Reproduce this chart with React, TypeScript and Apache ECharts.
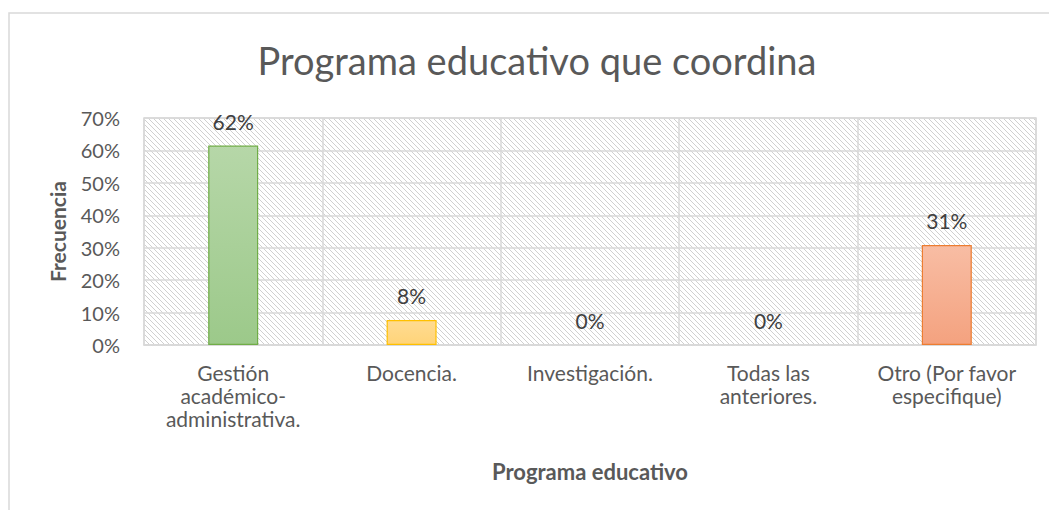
import React, { useEffect, useRef } from "react";
import * as echarts from "echarts";

const titleText = "Programa educativo que coordina";
const categories = [
  "Gestión\nacadémico-\nadministrativa.",
  "Docencia.",
  "Investigación.",
  "Todas las\nanteriores.",
  "Otro (Por favor\nespecifique)",
];
const values = [0.615, 0.077, 0, 0, 0.308];
const barTop = ["#b6d7a8", "#ffdb92", "#ffdb92", "#f8bda4", "#f8bda4"];
const barBottom = ["#9cc98a", "#ffd479", "#ffd479", "#f4a27f", "#f4a27f"];
const barBorder = ["#70ad47", "#ffc000", "#ffc000", "#ed7d31", "#ed7d31"];
const yTicks = [0, 0.1, 0.2, 0.3, 0.4, 0.5, 0.6, 0.7];

const FONT = "Lato, 'Open Sans', sans-serif";

function makeHatch() {
  const n = 5;
  const c = document.createElement("canvas");
  c.width = n;
  c.height = n;
  const ctx = c.getContext("2d")!;
  ctx.fillStyle = "#ffffff";
  ctx.fillRect(0, 0, n, n);
  ctx.strokeStyle = "#d0d0d0";
  ctx.lineWidth = 1;
  ctx.beginPath();
  ctx.moveTo(-1, -1);
  ctx.lineTo(n + 1, n + 1);
  ctx.moveTo(-1, n - 1);
  ctx.lineTo(1, n + 1);
  ctx.moveTo(n - 1, -1);
  ctx.lineTo(n + 1, 1);
  ctx.stroke();
  return c;
}

export default function App() {
  const ref = useRef<HTMLDivElement>(null);
  useEffect(() => {
    document.body.style.margin = "0";
    const chart = echarts.init(ref.current!, null, { renderer: "svg" });
    const hatch = makeHatch();
    chart.setOption({
      animation: false,
      backgroundColor: "#ffffff",
      title: {
        text: titleText,
        left: 532,
        textAlign: "center",
        top: 36,
        textStyle: { fontFamily: FONT, fontSize: 38, fontWeight: "normal", color: "#595959" },
      },
      graphic: [
        {
          type: "rect",
          shape: { x: 9, y: 13, width: 1200, height: 700 },
          style: { fill: "none", stroke: "#d9d9d9", lineWidth: 1.5 },
          silent: true,
        },
      ],
      grid: {
        left: 144,
        right: 13,
        top: 118,
        bottom: 165,
        show: true,
        backgroundColor: { image: hatch, repeat: "repeat" },
        borderColor: "#d9d9d9",
        borderWidth: 1.5,
      },
      xAxis: {
        type: "category",
        data: categories,
        name: "Programa educativo",
        nameLocation: "middle",
        nameGap: 115,
        nameTextStyle: { fontFamily: FONT, fontSize: 22, fontWeight: "bold", color: "#595959" },
        axisLine: { show: true, lineStyle: { color: "#d9d9d9", width: 1.5 } },
        axisTick: { show: false },
        axisLabel: {
          fontFamily: FONT,
          fontSize: 21,
          color: "#595959",
          lineHeight: 23,
          margin: 16,
          interval: 0,
        },
        splitLine: { show: true, lineStyle: { color: "#d9d9d9", width: 1.5 } },
      },
      yAxis: {
        type: "value",
        min: 0,
        max: 0.7,
        interval: 0.1,
        name: "Frecuencia",
        nameLocation: "middle",
        nameGap: 76,
        nameTextStyle: { fontFamily: FONT, fontSize: 21, fontWeight: "bold", color: "#595959" },
        axisLine: { show: false },
        axisTick: { show: false },
        axisLabel: {
          fontFamily: FONT,
          fontSize: 20,
          color: "#595959",
          margin: 24,
          formatter: (v: number) => {
            const hit = yTicks.find((t) => Math.abs(t - v) < 1e-9);
            return Math.round((hit ?? v) * 100) + "%";
          },
        },
        splitLine: { show: true, lineStyle: { color: "#d9d9d9", width: 1.5 } },
      },
      series: [
        {
          type: "bar",
          barWidth: 50,
          data: values.map((v, i) => ({
            value: v,
            itemStyle: {
              color: new echarts.graphic.LinearGradient(0, 0, 0, 1, [
                { offset: 0, color: barTop[i] },
                { offset: 1, color: barBottom[i] },
              ]),
              borderColor: barBorder[i],
              borderWidth: v > 0 ? 1.2 : 0,
            },
          })),
          label: {
            show: true,
            position: "top",
            distance: 14,
            fontFamily: FONT,
            fontSize: 21,
            color: "#404040",
            formatter: (p: any) => Math.round(p.value * 100) + "%",
          },
        },
      ],
    });
    return () => chart.dispose();
  }, []);
  return <div ref={ref} style={{ width: 1049, height: 510 }} />;
}
